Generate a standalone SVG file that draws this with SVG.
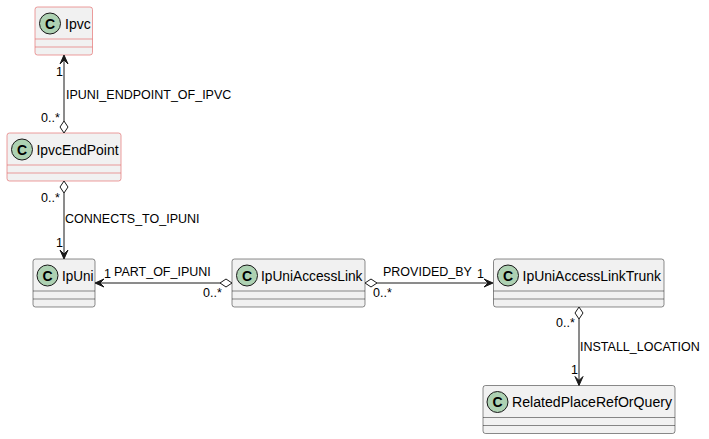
<svg xmlns="http://www.w3.org/2000/svg" width="709" height="439" viewBox="0 0 709 439">
<style>
.box{fill:#F1F1F1;stroke:#181818;stroke-width:0.5}
.pink{stroke:#E57373;stroke-width:0.7}
.div{stroke:#181818;stroke-width:0.5}
.pdiv{stroke:#E57373;stroke-width:0.7}
.circ{fill:#ADD1B2;stroke:#181818;stroke-width:1}
.cl{font-family:"Liberation Sans",Arial,sans-serif;font-size:14px;fill:#000}
.ch{font-family:"Liberation Sans",Arial,sans-serif;font-size:14px;font-weight:bold;fill:#000}
.lbl{font-family:"Liberation Sans",Arial,sans-serif;font-size:12.5px;fill:#000}
.ln{stroke:#181818;stroke-width:1;fill:none}
.ah{fill:#181818;stroke:#181818;stroke-width:1}
.dm{fill:#FFFFFF;stroke:#181818;stroke-width:1}
</style>
<rect width="709" height="439" fill="#FFFFFF"/>
<g id="Ipvc">
<rect class="box pink" x="35" y="7" width="57.5" height="48" rx="2.5"/>
<line class="pdiv" x1="35" y1="39" x2="92.5" y2="39"/>
<line class="pdiv" x1="35" y1="47" x2="92.5" y2="47"/>
<circle class="circ" cx="50" cy="23.5" r="10.5"/>
<text class="ch" x="50" y="28.5" text-anchor="middle">C</text>
<text class="cl" x="65" y="28.5">Ipvc</text>
</g>
<g id="IpvcEndPoint">
<rect class="box pink" x="7" y="133" width="114" height="48" rx="2.5"/>
<line class="pdiv" x1="7" y1="165" x2="121" y2="165"/>
<line class="pdiv" x1="7" y1="173" x2="121" y2="173"/>
<circle class="circ" cx="22" cy="149.5" r="10.5"/>
<text class="ch" x="22" y="154.5" text-anchor="middle">C</text>
<text class="cl" x="36.5" y="154.5" textLength="82" lengthAdjust="spacingAndGlyphs">IpvcEndPoint</text>
</g>
<g id="IpUni">
<rect class="box" x="33" y="259" width="62" height="48" rx="2.5"/>
<line class="div" x1="33" y1="291" x2="95" y2="291"/>
<line class="div" x1="33" y1="299" x2="95" y2="299"/>
<circle class="circ" cx="47.5" cy="275.5" r="10.5"/>
<text class="ch" x="47.5" y="280.5" text-anchor="middle">C</text>
<text class="cl" x="62" y="280.5" textLength="31.5" lengthAdjust="spacingAndGlyphs">IpUni</text>
</g>
<g id="IpUniAccessLink">
<rect class="box" x="232" y="259" width="133" height="48" rx="2.5"/>
<line class="div" x1="232" y1="291" x2="365" y2="291"/>
<line class="div" x1="232" y1="299" x2="365" y2="299"/>
<circle class="circ" cx="247" cy="275.5" r="10.5"/>
<text class="ch" x="247" y="280.5" text-anchor="middle">C</text>
<text class="cl" x="261" y="280.5" textLength="101.5" lengthAdjust="spacingAndGlyphs">IpUniAccessLink</text>
</g>
<g id="IpUniAccessLinkTrunk">
<rect class="box" x="493.5" y="259" width="170.5" height="48" rx="2.5"/>
<line class="div" x1="493.5" y1="291" x2="664" y2="291"/>
<line class="div" x1="493.5" y1="299" x2="664" y2="299"/>
<circle class="circ" cx="508" cy="275.5" r="10.5"/>
<text class="ch" x="508" y="280.5" text-anchor="middle">C</text>
<text class="cl" x="522.5" y="280.5" textLength="138.5" lengthAdjust="spacingAndGlyphs">IpUniAccessLinkTrunk</text>
</g>
<g id="RelatedPlaceRefOrQuery">
<rect class="box" x="483" y="385.5" width="192" height="48" rx="2.5"/>
<line class="div" x1="483" y1="417.5" x2="675" y2="417.5"/>
<line class="div" x1="483" y1="425.5" x2="675" y2="425.5"/>
<circle class="circ" cx="497.5" cy="402" r="10.5"/>
<text class="ch" x="497.5" y="407" text-anchor="middle">C</text>
<text class="cl" x="512" y="407" textLength="160" lengthAdjust="spacingAndGlyphs">RelatedPlaceRefOrQuery</text>
</g>
<g id="connectors">
<line class="ln" x1="64" y1="121" x2="64" y2="56"/>
<polygon class="ah" points="64,55 60,64 64,60 68,64"/>
<polygon class="dm" points="64,133 60,127 64,121 68,127"/>
<text class="lbl" x="66" y="99">IPUNI_ENDPOINT_OF_IPVC</text>
<text class="lbl" x="56" y="76">1</text>
<text class="lbl" x="41" y="122">0..*</text>
<line class="ln" x1="64" y1="193" x2="64" y2="258"/>
<polygon class="ah" points="64,259 60,250 64,254 68,250"/>
<polygon class="dm" points="64,181 60,187 64,193 68,187"/>
<text class="lbl" x="65" y="223">CONNECTS_TO_IPUNI</text>
<text class="lbl" x="56" y="247">1</text>
<text class="lbl" x="41" y="202">0..*</text>
<line class="ln" x1="220" y1="283" x2="96" y2="283"/>
<polygon class="ah" points="95,283 104,279 100,283 104,287"/>
<polygon class="dm" points="232,283 226,279 220,283 226,287"/>
<text class="lbl" x="114" y="276">PART_OF_IPUNI</text>
<text class="lbl" x="104" y="278">1</text>
<text class="lbl" x="203" y="297">0..*</text>
<line class="ln" x1="377" y1="283" x2="492" y2="283"/>
<polygon class="ah" points="493,283 484,279 488,283 484,287"/>
<polygon class="dm" points="365,283 371,279 377,283 371,287"/>
<text class="lbl" x="383" y="276">PROVIDED_BY</text>
<text class="lbl" x="477" y="278">1</text>
<text class="lbl" x="373" y="297">0..*</text>
<line class="ln" x1="579" y1="319" x2="579" y2="384.5"/>
<polygon class="ah" points="579,385.5 575,376.5 579,380.5 583,376.5"/>
<polygon class="dm" points="579,307 575,313 579,319 583,313"/>
<text class="lbl" x="580" y="351">INSTALL_LOCATION</text>
<text class="lbl" x="571" y="374">1</text>
<text class="lbl" x="556" y="327">0..*</text>
</g>
</svg>
